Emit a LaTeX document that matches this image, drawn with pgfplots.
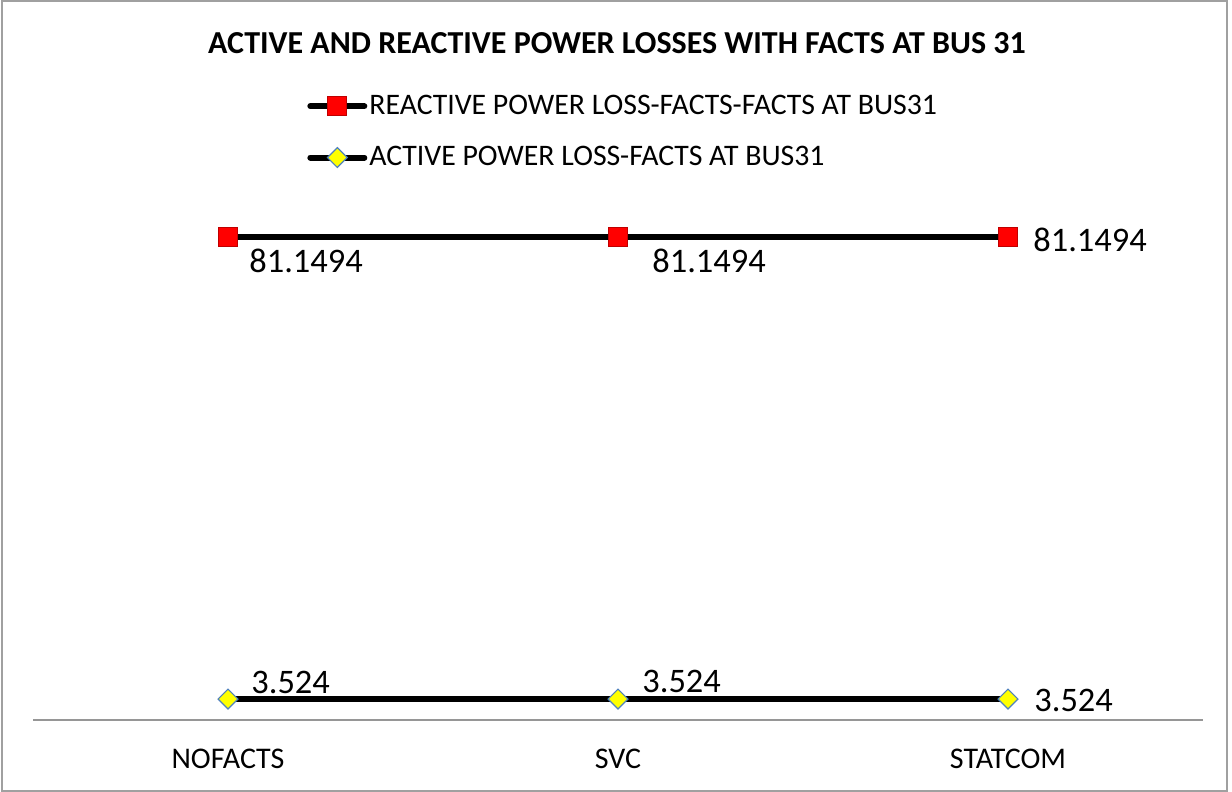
\documentclass[border=0pt]{standalone}
\usepackage{fontspec}
\setmainfont{Carlito}
\usepackage{pgfplots}
\pgfplotsset{compat=1.18}
\definecolor{axisgray}{RGB}{150,150,150}
\definecolor{framegray}{RGB}{160,160,160}
\definecolor{mkblue}{RGB}{79,129,189}
\definecolor{mkred}{RGB}{255,0,0}
\definecolor{mkyellow}{RGB}{255,255,0}

\pgfplotsset{
  lbl/.style 2 args={draw=none, mark=none, forget plot, point meta=explicit symbolic,
    nodes near coords,
    nodes near coords style={anchor=west, inner sep=0pt, xshift=#1, yshift=#2, font=\fontsize{17.2}{20}\selectfont, text=black}},
}

\begin{document}
\begin{tikzpicture}
\fill[white] (0,0) rectangle (616pt,-396pt);
\useasboundingbox (0,0) rectangle (616pt,-396pt);
\draw[framegray, line width=1pt] (0.75pt,-0.5pt) rectangle (613.25pt,-395.5pt);
\node[font=\bfseries\fontsize{16}{19}\selectfont] at (308.5pt,-21.5pt) {ACTIVE AND REACTIVE POWER LOSSES WITH FACTS AT BUS 31};
\begin{axis}[
  at={(16.5pt,-360pt)}, anchor=south west,
  scale only axis, width=585pt, height=267.75pt,
  xmin=-0.5, xmax=2.5, ymin=0, ymax=90,
  axis x line*=bottom, axis y line=none,
  x axis line style={axisgray, line width=0.75pt, -},
  xtick={0,1,2}, xticklabels={NOFACTS,SVC,STATCOM},
  major tick length=0pt,
  xticklabel style={font=\fontsize{15}{17}\selectfont, yshift=-11pt},
  ytick=\empty,
  clip=false,
  legend style={at={(axis description cs:0.229,1.179)}, anchor=north west,
    draw=none, fill=none, font=\fontsize{14.9}{17}\selectfont,
    nodes={inner sep=1pt}, row sep=12.5pt, column sep=0pt},
  legend cell align=left,
  legend image code/.code={\draw[mark repeat=2,mark phase=2,line cap=round,#1] plot coordinates {(0pt,0pt) (13.5pt,0pt) (27pt,0pt)};},
]
\addplot[line width=3pt, black, mark=square*, mark size=4.75pt,
  mark options={fill=mkred, draw=red!75!black, line width=0.5pt}]
  coordinates {(0,81.1494) (1,81.1494) (2,81.1494)};
\addlegendentry{REACTIVE POWER LOSS-FACTS-FACTS AT BUS31}
\addplot[line width=3pt, black, mark=square*, mark size=3.5pt,
  mark options={rotate=45, fill=mkyellow, draw=mkblue, line width=0.6pt}]
  coordinates {(0,3.524) (1,3.524) (2,3.524)};
\addlegendentry{ACTIVE POWER LOSS-FACTS AT BUS31}
% data labels
\addplot[lbl={10.5pt}{-12pt}] coordinates {(0,81.1494) [81.1494]};
\addplot[lbl={17pt}{-12pt}] coordinates {(1,81.1494) [81.1494]};
\addplot[lbl={12.5pt}{-1.5pt}] coordinates {(2,81.1494) [81.1494]};
\addplot[lbl={11.5pt}{8.5pt}] coordinates {(0,3.524) [3.524]};
\addplot[lbl={12pt}{9pt}] coordinates {(1,3.524) [3.524]};
\addplot[lbl={13pt}{-0.5pt}] coordinates {(2,3.524) [3.524]};
\end{axis}
\end{tikzpicture}
\end{document}
